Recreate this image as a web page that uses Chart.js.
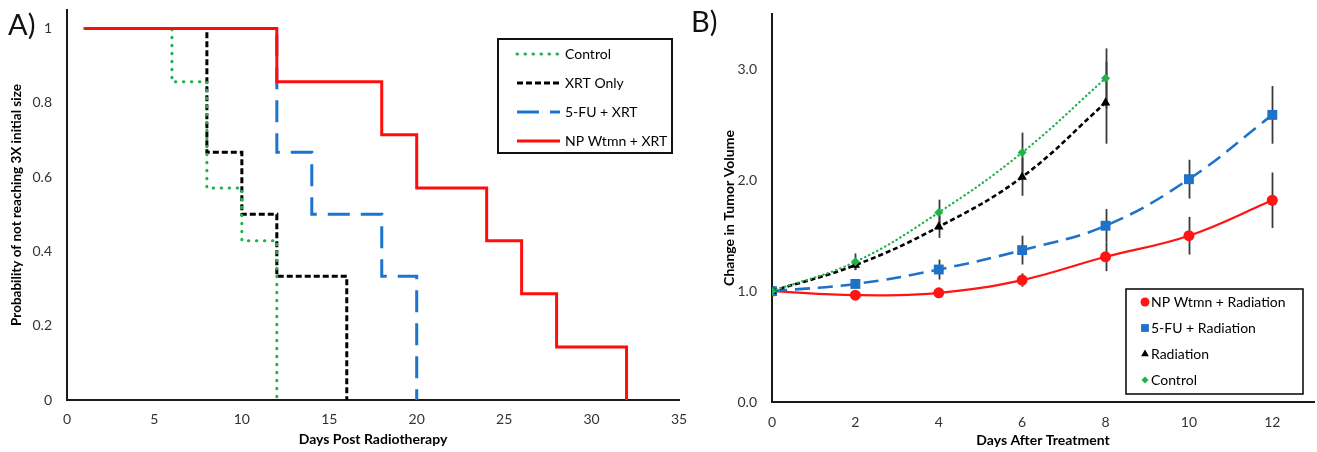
<!DOCTYPE html>
<html>
<head>
<meta charset="utf-8">
<script src="https://cdn.jsdelivr.net/npm/chart.js@4/dist/chart.umd.min.js"></script>
<style>
  html, body { margin: 0; padding: 0; background: #fff; }
  #wrap { position: relative; width: 1317px; height: 452px; overflow: hidden; }
  canvas { position: absolute; top: 0; }
  .pl { position: absolute; font-family: Lato, sans-serif; font-size: 29px; line-height: 1; color: #111; }
</style>
</head>
<body>
<div id="wrap">
  <canvas id="chartA" width="690" height="452" style="left:0px"></canvas>
  <canvas id="chartB" width="627" height="452" style="left:690px"></canvas>
  <div class="pl" style="left:8px;top:9px">A)</div>
  <div class="pl" style="left:691px;top:6px">B)</div>
</div>
<script>
// ---------- Panel A data (Kaplan-Meier style) ----------
const controlDays = [1, 6, 8, 10, 12];
const controlSurv = [1, 0.857, 0.571, 0.429, 0];
const xrtDays = [1, 8, 10, 12, 16];
const xrtSurv = [1, 0.667, 0.5, 0.333, 0];
const fuXrtDays = [1, 12, 14, 18, 20];
const fuXrtSurv = [1, 0.667, 0.5, 0.333, 0];
const npXrtDays = [1, 12, 18, 20, 24, 26, 28, 32];
const npXrtSurv = [1, 0.857, 0.714, 0.571, 0.429, 0.286, 0.143, 0];
const labelsA = ['Control', 'XRT Only', '5-FU + XRT', 'NP Wtmn + XRT'];

// ---------- Panel B data (tumor volume) ----------
const daysLong = [0, 2, 4, 6, 8, 10, 12];
const daysShort = [0, 2, 4, 6, 8];
const npRadMean = [1.0, 0.964, 0.985, 1.10, 1.31, 1.50, 1.82];
const npRadErr = [0, 0.02, 0.02, 0.06, 0.13, 0.17, 0.25];
const fuRadMean = [1.0, 1.065, 1.195, 1.37, 1.59, 2.01, 2.59];
const fuRadErr = [0, 0.035, 0.09, 0.13, 0.15, 0.175, 0.26];
const radMean = [1.0, 1.235, 1.58, 2.03, 2.70];
const radErr = [0, 0.045, 0.10, 0.17, 0.37];
const ctlMean = [1.0, 1.265, 1.71, 2.25, 2.92];
const ctlErr = [0, 0.075, 0.115, 0.18, 0.27];
const labelsB = ['NP Wtmn + Radiation', '5-FU + Radiation', 'Radiation', 'Control'];

const FONT = 'Lato, "Open Sans", sans-serif';
const toXY = (xs, ys) => xs.map((x, i) => ({ x: x, y: ys[i] }));

// ---------- plugins ----------
function drawMarker(ctx, style, x, y, r) {
  ctx.beginPath();
  if (style === 'circle') {
    ctx.arc(x, y, r, 0, Math.PI * 2);
  } else if (style === 'rect') {
    const s = r * Math.SQRT1_2;
    ctx.rect(x - s, y - s, 2 * s, 2 * s);
  } else if (style === 'triangle') {
    ctx.moveTo(x, y - r);
    ctx.lineTo(x + r * 0.866, y + r * 0.5);
    ctx.lineTo(x - r * 0.866, y + r * 0.5);
    ctx.closePath();
  } else if (style === 'rectRot') {
    ctx.moveTo(x, y - r); ctx.lineTo(x + r, y); ctx.lineTo(x, y + r); ctx.lineTo(x - r, y);
    ctx.closePath();
  }
  ctx.fill();
}

const boxLegend = {
  id: 'boxLegend',
  afterDraw(chart, args, o) {
    if (!o || !o.box) return;
    const ctx = chart.ctx;
    ctx.save();
    ctx.strokeStyle = o.borderColor;
    ctx.lineWidth = o.borderWidth;
    ctx.setLineDash([]);
    ctx.strokeRect(o.box.x, o.box.y, o.box.w, o.box.h);
    ctx.font = o.font;
    ctx.textBaseline = 'middle';
    o.order.forEach((idx, i) => {
      const ds = chart.data.datasets[idx];
      const y = o.firstY + i * o.rowGap;
      if (o.kind === 'line') {
        ctx.strokeStyle = ds.borderColor;
        ctx.lineWidth = ds.borderWidth;
        ctx.lineCap = ds.borderCapStyle || 'butt';
        ctx.setLineDash(ds.borderDash || []);
        ctx.beginPath();
        ctx.moveTo(o.lineX1, y);
        ctx.lineTo(o.lineX2, y);
        ctx.stroke();
        ctx.setLineDash([]);
      } else {
        ctx.fillStyle = ds.pointBackgroundColor;
        drawMarker(ctx, ds.pointStyle, o.markerX, y, o.markerR[i]);
      }
      ctx.fillStyle = '#000';
      ctx.fillText(ds.label, o.textX, y);
    });
    ctx.restore();
  }
};

const errorBars = {
  id: 'errorBars',
  beforeDatasetsDraw(chart, args, o) {
    const ctx = chart.ctx;
    const xs = chart.scales.x, ys = chart.scales.y;
    ctx.save();
    ctx.strokeStyle = o.color;
    ctx.lineWidth = o.width;
    chart.data.datasets.forEach(ds => {
      if (!ds.errors) return;
      ds.data.forEach((p, j) => {
        const e = ds.errors[j];
        if (!e) return;
        const px = Math.round(xs.getPixelForValue(p.x)) + 0.5;
        ctx.beginPath();
        ctx.moveTo(px, ys.getPixelForValue(p.y + e));
        ctx.lineTo(px, ys.getPixelForValue(p.y - e));
        ctx.stroke();
      });
    });
    ctx.restore();
  }
};

const tickFont = { family: FONT, size: 14 };
const titleFontX = { family: FONT, size: 14, weight: 'bold' };
const titleFontYA = { family: FONT, size: 13.5, weight: 'bold' };
const titleFontYB = { family: FONT, size: 14, weight: 'bold' };
const TICK_COLOR = '#333';
const AXIS_COLOR = '#1a1a1a';
const fixH = h => s => { s.height = h; s.paddingLeft = 0; s.paddingRight = 0; };
const fixW = w => s => { s.width = w; s.paddingTop = 0; s.paddingBottom = 0; };

// ---------- Chart A ----------
const GREEN = '#22b14c', BLACK = '#000000', BLUE = '#1b74cf', RED = '#ff0d0d';
new Chart(document.getElementById('chartA'), {
  type: 'line',
  data: {
    datasets: [
      { label: labelsA[0], data: toXY(controlDays, controlSurv), borderColor: GREEN, borderWidth: 3, borderDash: [0.5, 7.5], borderCapStyle: 'round', stepped: true, pointRadius: 0, order: 1 },
      { label: labelsA[1], data: toXY(xrtDays, xrtSurv), borderColor: BLACK, borderWidth: 3, borderDash: [6, 3], stepped: true, pointRadius: 0, order: 2 },
      { label: labelsA[2], data: toXY(fuXrtDays, fuXrtSurv), borderColor: BLUE, borderWidth: 3, borderDash: [22, 11], stepped: true, pointRadius: 0, order: 3 },
      { label: labelsA[3], data: toXY(npXrtDays, npXrtSurv), borderColor: RED, borderWidth: 3, stepped: true, pointRadius: 0, order: 0 }
    ]
  },
  options: {
    responsive: false,
    animation: false,
    layout: { autoPadding: false, padding: { left: 0, right: 11, top: 10, bottom: 0 } },
    plugins: {
      legend: { display: false },
      tooltip: { enabled: false },
      boxLegend: {
        kind: 'line', box: { x: 498, y: 39, w: 174, h: 114 }, borderColor: '#111', borderWidth: 2,
        font: '14px ' + FONT, order: [0, 1, 2, 3], firstY: 54, rowGap: 29,
        lineX1: 517, lineX2: 560, textX: 565
      }
    },
    scales: {
      x: {
        type: 'linear', min: 0, max: 35,
        ticks: { stepSize: 5, padding: 11, color: TICK_COLOR, font: tickFont, maxRotation: 0 },
        grid: { display: false, drawTicks: false },
        border: { display: true, color: AXIS_COLOR, width: 2 },
        title: { display: true, text: 'Days Post Radiotherapy', color: '#000', font: titleFontX, padding: { top: 0, bottom: 4 } },
        afterFit: fixH(52)
      },
      y: {
        min: 0, max: 1.05,
        ticks: { stepSize: 0.2, padding: 15, color: TICK_COLOR, font: tickFont, callback: v => String(Number(Number(v).toFixed(1))) },
        afterBuildTicks: s => { s.ticks = s.ticks.filter(t => t.value <= 1.0001); },
        grid: { display: false, drawTicks: false },
        border: { display: true, color: AXIS_COLOR, width: 2 },
        title: { display: true, text: 'Probability of not reaching 3X initial size', color: '#000', font: titleFontYA, padding: { top: 9, bottom: 0 } },
        afterFit: fixW(67)
      }
    }
  },
  plugins: [boxLegend]
});

// ---------- Chart B ----------
const RED_B = '#ff1414', BLUE_B = '#1e73c8', BLACK_B = '#000000', GREEN_B = '#22b14c';
new Chart(document.getElementById('chartB'), {
  type: 'line',
  data: {
    datasets: [
      { label: labelsB[0], data: toXY(daysLong, npRadMean), errors: npRadErr, borderColor: RED_B, borderWidth: 2.2, tension: 0.4,
        pointStyle: 'circle', pointRadius: 5.5, pointBackgroundColor: RED_B, pointBorderWidth: 0, order: 3 },
      { label: labelsB[1], data: toXY(daysLong, fuRadMean), errors: fuRadErr, borderColor: BLUE_B, borderWidth: 2.6, borderDash: [15, 8], tension: 0.4,
        pointStyle: 'rect', pointRadius: 7, pointBackgroundColor: BLUE_B, pointBorderWidth: 0, order: 2 },
      { label: labelsB[2], data: toXY(daysShort, radMean), errors: radErr, borderColor: BLACK_B, borderWidth: 2.6, borderDash: [5, 3], tension: 0.4,
        pointStyle: 'triangle', pointRadius: 5.5, pointBackgroundColor: BLACK_B, pointBorderWidth: 0, order: 1 },
      { label: labelsB[3], data: toXY(daysShort, ctlMean), errors: ctlErr, borderColor: GREEN_B, borderWidth: 2.2, borderDash: [0.5, 4], borderCapStyle: 'round', tension: 0.4,
        pointStyle: 'rectRot', pointRadius: 4.5, pointBackgroundColor: GREEN_B, pointBorderWidth: 0, order: 0 }
    ]
  },
  options: {
    responsive: false,
    animation: false,
    layout: { autoPadding: false, padding: { left: 0, right: 3, top: 14, bottom: 0 } },
    plugins: {
      legend: { display: false },
      tooltip: { enabled: false },
      errorBars: { color: '#3a3a3a', width: 1.8 },
      boxLegend: {
        kind: 'marker', box: { x: 436, y: 289, w: 177, h: 105 }, borderColor: '#111', borderWidth: 1.6,
        font: '14px ' + FONT, order: [0, 1, 2, 3], firstY: 302, rowGap: 26,
        markerX: 455, markerR: [4.5, 5.5, 4.5, 3.5], textX: 461
      }
    },
    scales: {
      x: {
        type: 'linear', min: 0, max: 13,
        ticks: { stepSize: 2, padding: 12, color: TICK_COLOR, font: tickFont, maxRotation: 0 },
        afterBuildTicks: s => { s.ticks = s.ticks.filter(t => t.value <= 12.0001); },
        grid: { display: false, drawTicks: false },
        border: { display: true, color: AXIS_COLOR, width: 2 },
        title: { display: true, text: 'Days After Treatment', color: '#000', font: titleFontX, padding: { top: 0, bottom: 3 } },
        afterFit: fixH(50)
      },
      y: {
        min: 0, max: 3.5,
        ticks: { stepSize: 1, padding: 15, color: TICK_COLOR, font: tickFont, callback: v => Number(v).toFixed(1) },
        afterBuildTicks: s => { s.ticks = s.ticks.filter(t => t.value <= 3.0001); },
        grid: { display: false, drawTicks: false },
        border: { display: true, color: AXIS_COLOR, width: 2 },
        title: { display: true, text: 'Change in Tumor Volume', color: '#000', font: titleFontYB, padding: { top: 31, bottom: 0 } },
        afterFit: fixW(82)
      }
    }
  },
  plugins: [errorBars, boxLegend]
});
</script>
</body>
</html>
